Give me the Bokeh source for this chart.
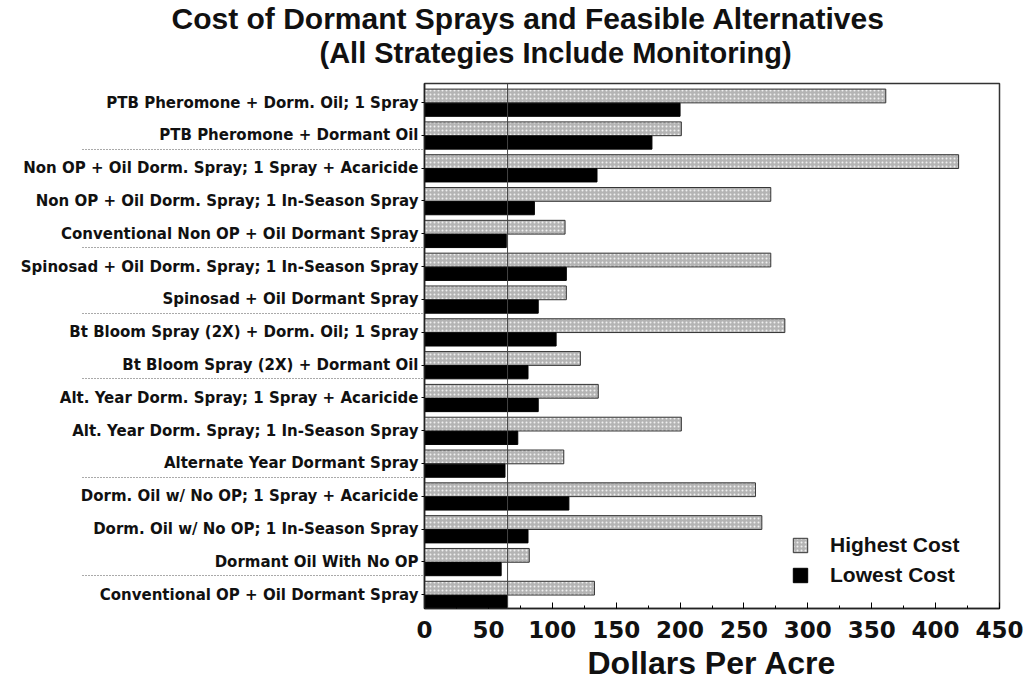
from bokeh.plotting import figure
from bokeh.models import (Range1d, FixedTicker, SingleIntervalTicker, Span, Title,
                          ColumnDataSource)
from bokeh.embed import file_html
from bokeh.resources import INLINE

# ---------------- data ----------------
strategies = [
    "PTB Pheromone + Dorm. Oil; 1 Spray",
    "PTB Pheromone + Dormant Oil",
    "Non OP + Oil Dorm. Spray; 1 Spray + Acaricide",
    "Non OP + Oil Dorm. Spray; 1 In-Season Spray",
    "Conventional Non OP + Oil Dormant Spray",
    "Spinosad + Oil Dorm. Spray; 1 In-Season Spray",
    "Spinosad + Oil Dormant Spray",
    "Bt Bloom Spray (2X) + Dorm. Oil; 1 Spray",
    "Bt Bloom Spray (2X) + Dormant Oil",
    "Alt. Year Dorm. Spray; 1 Spray + Acaricide",
    "Alt. Year Dorm. Spray; 1 In-Season Spray",
    "Alternate Year Dormant Spray",
    "Dorm. Oil w/ No OP; 1 Spray + Acaricide",
    "Dorm. Oil w/ No OP; 1 In-Season Spray",
    "Dormant Oil With No OP",
    "Conventional OP + Oil Dormant Spray",
]
highest_cost = [361, 201, 418, 271, 110, 271, 111, 282, 122, 136, 201, 109, 259, 264, 82, 133]
lowest_cost = [200, 178, 135, 86, 64, 111, 89, 103, 81, 89, 73, 63, 113, 81, 60, 65]
group_breaks_after = [2, 5, 7, 9, 12, 15]   # dotted separators, counted from the top
x_max = 450
x_tick_step = 50

title_line1 = "Cost of Dormant Sprays and Feasible Alternatives"
title_line2 = "(All Strategies Include Monitoring)"
x_label = "Dollars Per Acre"

# ---------------- layout helpers ----------------
n = len(strategies)
row_top = [n - i for i in range(n)]
hi_y = [t - 0.38 for t in row_top]
lo_y = [t - 0.80 for t in row_top]
label_y = [round(t - 0.58, 2) for t in row_top]
sep_y = [n - b for b in group_breaks_after]

src = ColumnDataSource(dict(hi=highest_cost, lo=lowest_cost, hi_y=hi_y, lo_y=lo_y))

p = figure(width=1026, height=695, output_backend="svg", toolbar_location=None,
           x_range=Range1d(0, x_max), y_range=Range1d(0, n),
           title=title_line1,
           min_border_left=424, min_border_right=27, min_border_top=83, min_border_bottom=87)

p.title.align = "left"
p.title.offset = -253
p.title.text_font = "Liberation Sans"
p.title.text_font_style = "bold"
p.title.text_font_size = "30px"
p.title.text_color = "#111111"
p.title.standoff = -30

t2 = Title(text=title_line2, align="left", offset=-105, text_font="Liberation Sans",
           text_font_style="bold", text_font_size="29px", text_color="#111111", standoff=30)
p.add_layout(t2, "above")

p.xgrid.visible = False
p.ygrid.visible = False
p.outline_line_color = "#333333"
p.outline_line_width = 1.5
p.background_fill_color = "white"
p.border_fill_color = "white"

p.hbar(y="hi_y", left=0, right="hi", height=0.42, source=src,
       fill_color="#b4b4b4", hatch_pattern="dot", hatch_color="#f0f0f0",
       hatch_scale=4, hatch_weight=1.5, line_color="#333333", line_width=1,
       legend_label="Highest Cost")
p.hbar(y="lo_y", left=0, right="lo", height=0.40, source=src,
       fill_color="black", line_color="black", legend_label="Lowest Cost")

# reference line at the conventional (lowest) cost
p.add_layout(Span(location=lowest_cost[-1], dimension="height",
                  line_color="#444444", line_width=1))

# x axis
xa = p.xaxis[0]
xa.ticker = SingleIntervalTicker(interval=x_tick_step, num_minor_ticks=2)
xa.major_tick_in = 6
xa.major_tick_out = 0
xa.minor_tick_in = 3
xa.minor_tick_out = 0
xa.axis_line_color = "#222222"
xa.axis_line_width = 1.5
xa.major_label_text_font = "DejaVu Sans"
xa.major_label_text_font_style = "bold"
xa.major_label_text_font_size = "23px"
xa.major_label_text_color = "#111111"
xa.major_label_standoff = 12
xa.axis_label = x_label
xa.axis_label_text_font = "Liberation Sans"
xa.axis_label_text_font_style = "bold"
xa.axis_label_text_font_size = "32px"
xa.axis_label_text_color = "#111111"
xa.axis_label_standoff = 4

# y axis with strategy labels and dotted group separators (as long minor ticks)
ya = p.yaxis[0]
ya.ticker = FixedTicker(ticks=label_y, minor_ticks=sep_y)
ya.major_label_overrides = {y: s for y, s in zip(label_y, strategies)}
ya.major_tick_in = 0
ya.major_tick_out = 3
ya.minor_tick_in = 0
ya.minor_tick_out = 342
ya.minor_tick_line_dash = "1 2"
ya.minor_tick_line_color = "#555555"
ya.minor_tick_line_width = 1
ya.axis_line_color = "#222222"
ya.axis_line_width = 1.5
ya.major_label_text_font = "DejaVu Sans"
ya.major_label_text_font_style = "bold"
ya.major_label_text_font_size = "15px"
ya.major_label_text_color = "#111111"
ya.major_label_standoff = -336

lg = p.legend[0]
lg.location = (367, 21)
lg.padding = 0
lg.margin = 0
lg.spacing = 6
lg.glyph_width = 18
lg.glyph_height = 18
lg.label_standoff = 21
lg.label_text_font = "Liberation Sans"
lg.label_text_font_style = "bold"
lg.label_text_font_size = "21px"
lg.label_text_color = "#111111"
lg.border_line_alpha = 0
lg.background_fill_alpha = 0

open("out.html", "w").write(file_html(p, INLINE))
